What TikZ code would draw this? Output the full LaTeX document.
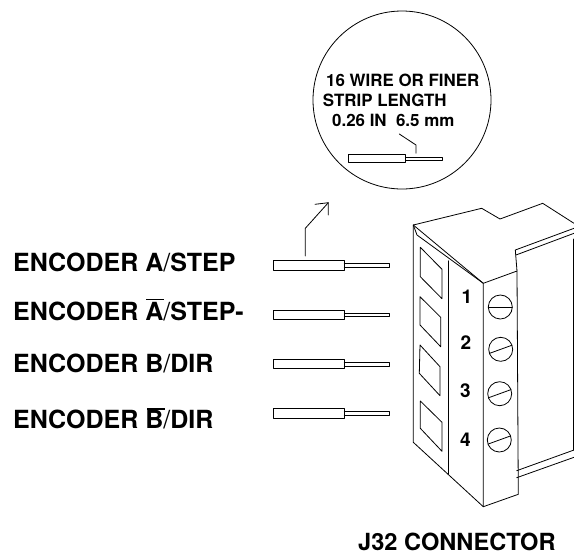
\documentclass[tikz,border=0pt]{standalone}
\usepackage{fontspec}
\setmainfont{TeX Gyre Heros}
\newcommand{\thinslash}{{\mdseries /}}
\tikzset{
  ln/.style={line width=0.8pt,line cap=round,line join=round},
  lbl/.style={anchor=base west,inner sep=0pt,font=\bfseries\fontsize{25}{25}\selectfont},
  jlbl/.style={anchor=base west,inner sep=0pt,font=\bfseries\fontsize{23.6}{24}\selectfont},
  small/.style={anchor=base west,inner sep=0pt,font=\bfseries\fontsize{16.9}{17}\selectfont},
  num/.style={anchor=center,inner sep=0pt,font=\bfseries\fontsize{19}{19}\selectfont},
  wire/.pic={
    \draw[ln,fill=white] (0,-4.6) rectangle (71,4.6);
    \draw[ln] (71,-1.8) -- (116.5,-1.8) -- (116.5,2) -- (71,2);
  },
  screw/.pic={
    \draw[ln] (0,0) circle (12);
    \draw[ln] (-11.3,4.1) -- (11.3,-4.1);
  }
}
\begin{document}
\begin{tikzpicture}[x=1pt,y=-1pt]
\useasboundingbox (0,0) rectangle (574,558);
% detail circle
\node[draw,circle,ln,minimum size=178pt,inner sep=0pt] (lens) at (402,100) {};
\node[small] (t1) at (326,86.7) {16 WIRE OR FINER};
\node[small] (t2) at (322.7,106.7) {STRIP LENGTH};
\node[small] (t3) at (332,126.7) {0.26 IN\ \ 6.5 mm};
\draw[ln,fill=white] (348.3,154.3) rectangle (405.7,162);
\draw[ln] (405.7,157) -- (442,157) -- (442,160.3) -- (405.7,160.3);
\draw[ln] (399.3,134) -- (416,145) -- (416,153.3);
% labels
\node[lbl] (a) at (13,271.7) {ENCODER A\thinslash STEP};
\node[lbl] (an) at (13,320) {ENCODER A\thinslash STEP-};
\node[lbl] (b) at (13,372.7) {ENCODER B\thinslash DIR};
\node[lbl] (bn) at (13,428.7) {ENCODER B\thinslash DIR};
\draw[line width=1.8pt] (146,299.5) -- (164,299.5);
\draw[line width=1.8pt] (147.3,409) -- (165,409);
\node[jlbl] (j) at (358,550) {J32 CONNECTOR};
% wires
\pic at (273.3,265.3) {wire};
\pic at (273.3,314.7) {wire};
\pic at (273.3,364) {wire};
\pic at (273.3,413.3) {wire};
% arrow
\coordinate (p0) at (305.3,256);
\coordinate (p1) at (305.3,228.3);
\coordinate (p2) at (328.3,202.7);
\draw[ln] (p0) -- (p1) -- (p2);
\draw[ln] (315,204.3) -- (p2) -- (328.3,215);
% connector body
\draw[ln] (413.3,225) -- (481.7,208.3) -- (500,219) -- (542.7,203.3) -- (574,223.3);
\draw[ln] (413.3,225) -- (413.3,442.3) -- (483.3,506.7) -- (518.3,494.3) -- (517,271) -- (483.3,283.3) -- cycle;
\draw[ln] (413.3,225) -- (417,235) -- (483.3,283.3) -- (483.3,506.7);
\draw[ln] (448.3,260.7) -- (448.3,474);
\draw[ln] (517,271) -- (515.3,250) -- (574,228.3);
\draw[ln] (516,255) -- (574,233.3);
\draw[ln] (573.6,239) -- (573.6,450);
\draw[ln] (516.7,470.7) -- (574,450);
\draw[ln] (516.7,477.7) -- (574,457.3);
% windows
\draw[ln] (420.3,247.3) -- (442,269.3) -- (442,298.7) -- (420.3,276.7) -- cycle;
\draw[ln] (420,296.7) -- (440.7,317.3) -- (440.7,346.7) -- (420,325) -- cycle;
\draw[ln] (420,345) -- (440,366.7) -- (440,395.7) -- (419.3,373.3) -- cycle;
\draw[ln] (420.3,401) -- (442,422.3) -- (442,451.3) -- (420.3,428.3) -- cycle;
% numbers
\node[num] (n1) at (467,297) {1};
\node[num] (n2) at (466,343) {2};
\node[num] (n3) at (465.3,391) {3};
\node[num] (n4) at (465.3,440) {4};
% screws
\draw[ln] (500.3,307) circle (12);
\draw[ln] (488.3,307) -- (512.3,307);
\pic at (500.7,349.3) {screw};
\pic at (499.7,393.7) {screw};
\pic at (499.3,440) {screw};
\end{tikzpicture}
\end{document}
